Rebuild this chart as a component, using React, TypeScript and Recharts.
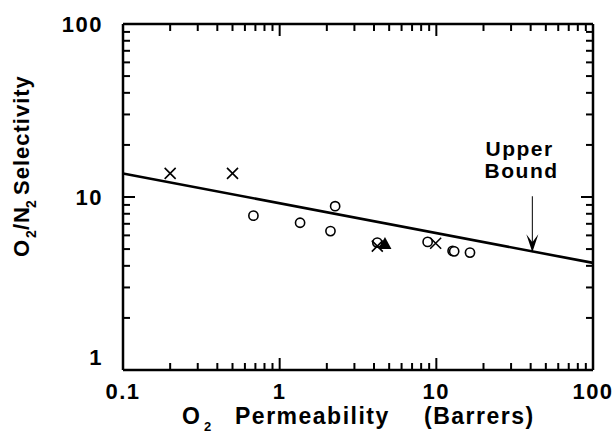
import { ComposedChart, Scatter, XAxis, YAxis, ReferenceLine, ReferenceDot } from 'recharts';

const INK = '#000';
const FONT = '"Liberation Sans", Arial, Helvetica, sans-serif';

// axis ticks (log decades, minor marks at 2..9)
const MAJOR_X = [0.1, 1, 10, 100];
const TICKS_X = [
  0.1, 0.2, 0.3, 0.4, 0.5, 0.6, 0.7, 0.8, 0.9,
  1, 2, 3, 4, 5, 6, 7, 8, 9,
  10, 20, 30, 40, 50, 60, 70, 80, 90, 100,
];
const MAJOR_Y = [1, 10, 100];
const TICKS_Y = [
  1, 2, 3, 4, 5, 6, 7, 8, 9,
  10, 20, 30, 40, 50, 60, 70, 80, 90, 100,
];

// measured points
const circles = [
  { x: 0.68, y: 7.8 },
  { x: 1.35, y: 7.1 },
  { x: 2.11, y: 6.35 },
  { x: 2.26, y: 8.85 },
  { x: 4.2, y: 5.45 },
  { x: 8.8, y: 5.5 },
  { x: 12.7, y: 4.88 },
  { x: 13.0, y: 4.85 },
  { x: 16.4, y: 4.77 },
];
const crosses = [
  { x: 0.2, y: 13.7 },
  { x: 0.5, y: 13.7 },
  { x: 4.2, y: 5.2 },
  { x: 9.9, y: 5.4 },
];
const triangles = [{ x: 4.7, y: 5.35 }];

// upper bound line end points
const boundStart = { x: 0.1, y: 13.68 };
const boundEnd = { x: 100, y: 4.16 };
const arrowX = 41;
const arrowTop = 10.1;
const arrowTip = 4.8;

const tickText = { fontFamily: FONT, fontWeight: 700, fontSize: 22, letterSpacing: 1.5, fill: INK };

function BottomTick({ x, y, payload }: any) {
  const major = MAJOR_X.includes(payload.value);
  return (
    <g>
      <line x1={x} x2={x} y1={y} y2={y - (major ? 12 : 7)} stroke={INK} strokeWidth={2} />
      {major && (
        <text x={x} y={y + 29} textAnchor="middle" style={tickText}>{payload.value}</text>
      )}
    </g>
  );
}

function TopTick({ x, y, payload }: any) {
  const major = MAJOR_X.includes(payload.value);
  return <line x1={x} x2={x} y1={y} y2={y + (major ? 12 : 7)} stroke={INK} strokeWidth={2} />;
}

function LeftTick({ x, y, payload }: any) {
  const major = MAJOR_Y.includes(payload.value);
  const lift = payload.value === 1 ? -13 : 0;
  return (
    <g>
      <line x1={x} x2={x + (major ? 12 : 7)} y1={y} y2={y} stroke={INK} strokeWidth={2} />
      {major && (
        <text x={x - 20} y={y + 8 + lift} textAnchor="end" style={tickText}>{payload.value}</text>
      )}
    </g>
  );
}

function RightTick({ x, y, payload }: any) {
  const major = MAJOR_Y.includes(payload.value);
  return <line x1={x} x2={x - (major ? 12 : 7)} y1={y} y2={y} stroke={INK} strokeWidth={2} />;
}

const titleStyle = { fontFamily: FONT, fontWeight: 700, fontSize: 23, letterSpacing: 1.5, fill: INK };

function XTitle() {
  return (
    <text style={titleStyle} y={424}>
      <tspan x={182}>O</tspan>
      <tspan x={204} dy={7} fontSize={13}>2</tspan>
      <tspan x={235} dy={-7}>Permeability</tspan>
      <tspan x={424}>(Barrers)</tspan>
    </text>
  );
}

function YTitle() {
  return (
    <text style={{ ...titleStyle, fontSize: 22, letterSpacing: 1 }} transform="translate(29,0) rotate(-90)" y={0}>
      <tspan x={-257}>O</tspan>
      <tspan x={-238} dy={7} fontSize={14}>2</tspan>
      <tspan x={-230} dy={-7}>/N</tspan>
      <tspan x={-208} dy={7} fontSize={14}>2</tspan>
      <tspan x={-195} dy={-7}>Selectivity</tspan>
    </text>
  );
}

const Circle = ({ cx, cy }: any) => (
  <circle cx={cx} cy={cy} r={4.6} fill="#fff" stroke={INK} strokeWidth={1.6} />
);
const Cross = ({ cx, cy }: any) => (
  <path d={`M${cx - 5.5},${cy - 5.5}L${cx + 5.5},${cy + 5.5}M${cx - 5.5},${cy + 5.5}L${cx + 5.5},${cy - 5.5}`}
    stroke={INK} strokeWidth={1.6} fill="none" />
);
const Triangle = ({ cx, cy }: any) => (
  <path d={`M${cx},${cy - 7}L${cx + 6.5},${cy + 5}L${cx - 6.5},${cy + 5}Z`} fill={INK} />
);
const ArrowHead = ({ cx, cy }: any) => (
  <path d={`M${cx},${cy}L${cx - 6},${cy - 18}L${cx},${cy - 10}L${cx + 6},${cy - 18}Z`} fill={INK} />
);
const BoundText = ({ cx, cy }: any) => (
  <text x={cx} y={cy} textAnchor="middle"
    style={{ fontFamily: FONT, fontWeight: 700, fontSize: 21, letterSpacing: 1.5, fill: INK }}>
    <tspan x={cx} dy={-22}>Upper</tspan>
    <tspan x={cx + 2} dy={22}>Bound</tspan>
  </text>
);

export default function App() {
  return (
    <div style={{ position: 'absolute', left: 0, top: 0, width: 614, height: 434, background: '#fff' }}>
      <ComposedChart width={614} height={434} margin={{ top: 24, right: 21, bottom: 0, left: 0 }}>
        <XAxis dataKey="x" type="number" scale="log" domain={[0.1, 100]} allowDataOverflow
          ticks={TICKS_X} interval={0} height={64} tickSize={0} tickMargin={0}
          axisLine={{ stroke: INK, strokeWidth: 2.5 }} tickLine={false} tick={<BottomTick />}
          label={{ content: () => <XTitle /> }} />
        <XAxis xAxisId="top" orientation="top" mirror dataKey="x" type="number" scale="log" domain={[0.1, 100]}
          allowDataOverflow ticks={TICKS_X} interval={0} tickSize={0} tickMargin={0}
          axisLine={{ stroke: INK, strokeWidth: 2.5 }} tickLine={false} tick={<TopTick />} />
        <YAxis dataKey="y" type="number" scale="log" domain={[1, 100]} allowDataOverflow
          ticks={TICKS_Y} interval={0} width={123} tickSize={0} tickMargin={0}
          axisLine={{ stroke: INK, strokeWidth: 2.5 }} tickLine={false} tick={<LeftTick />}
          label={{ content: () => <YTitle /> }} />
        <YAxis yAxisId="right" orientation="right" mirror dataKey="y" type="number" scale="log" domain={[1, 100]}
          allowDataOverflow ticks={TICKS_Y} interval={0} tickSize={0} tickMargin={0}
          axisLine={{ stroke: INK, strokeWidth: 2.5 }} tickLine={false} tick={<RightTick />} />

        <ReferenceLine segment={[boundStart, boundEnd]} stroke={INK} strokeWidth={2.6} ifOverflow="visible" />
        <ReferenceLine segment={[{ x: arrowX, y: arrowTop }, { x: arrowX, y: arrowTip }]} stroke={INK} strokeWidth={1} />
        <ReferenceDot x={arrowX} y={arrowTip} shape={<ArrowHead />} />
        <ReferenceDot x={34} y={12.85} shape={<BoundText />} />

        <Scatter data={circles} shape={<Circle />} isAnimationActive={false} />
        <Scatter data={crosses} shape={<Cross />} isAnimationActive={false} />
        <Scatter data={triangles} shape={<Triangle />} isAnimationActive={false} />
      </ComposedChart>
    </div>
  );
}
